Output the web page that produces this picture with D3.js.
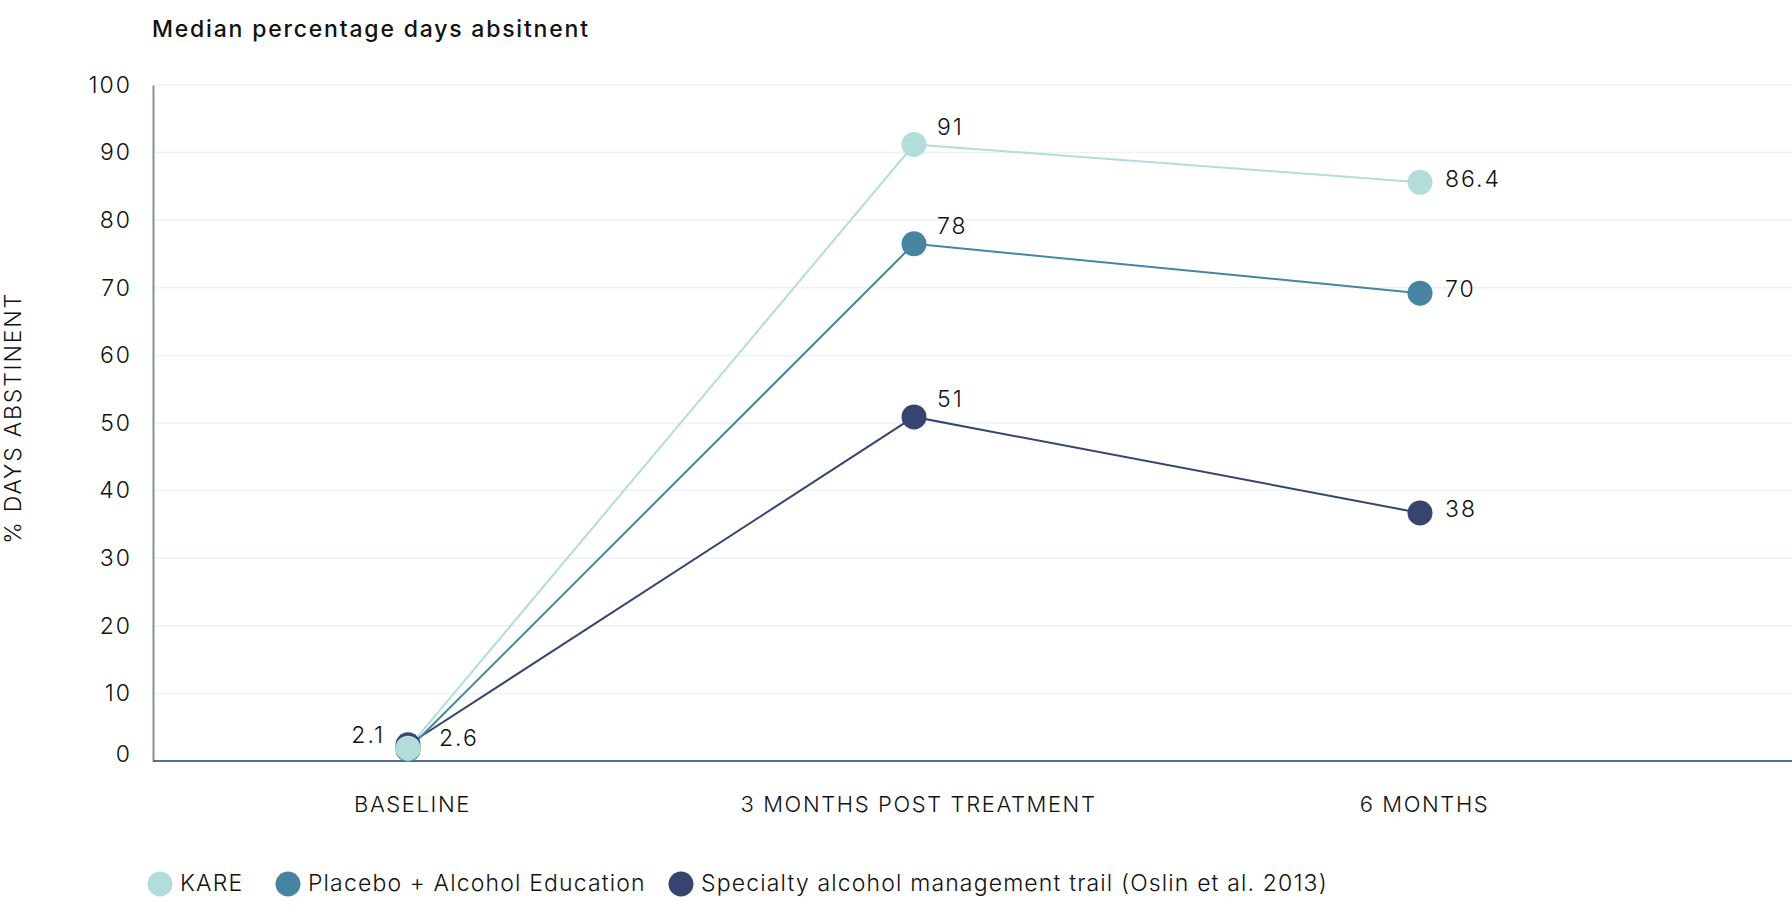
<!DOCTYPE html>
<html><head><meta charset="utf-8">
<script src="https://cdn.jsdelivr.net/npm/d3@7"></script>
<style>
html,body{margin:0;padding:0;background:#fff;}
svg{display:block;}
text{font-family:Inter,"Noto Sans",sans-serif;fill:#111;}
</style></head>
<body><svg id="chart" width="1792" height="917"></svg>
<script>
const categories = ["BASELINE", "3 MONTHS POST TREATMENT", "6 MONTHS"];
const seriesNames = ["KARE", "Placebo + Alcohol Education", "Specialty alcohol management trail (Oslin et al. 2013)"];
const kareValues = [1.9, 91.2, 85.6];
const placeboValues = [1.7, 76.5, 69.2];
const specialtyValues = [2.4, 50.9, 36.7];
const kareLabels = ["", "91", "86.4"];
const placeboLabels = ["", "78", "70"];
const specialtyLabels = ["2.1", "51", "38"];
const baselineExtraLabel = "2.6";
const yTicks = [0, 10, 20, 30, 40, 50, 60, 70, 80, 90, 100];
const colors = ["#b2ddda", "#4784a2", "#36456f"];
const titleText = "Median percentage days absitnent";
const yTitle = "% DAYS ABSTINENT";

const svg = d3.select("#chart");
const plotLeft = 153, plotRight = 1792, plotTop = 85, plotBottom = 761;
const x = d3.scalePoint().domain(categories).range([408, 1420]);
const y = d3.scaleLinear().domain([0, 100]).range([plotBottom, plotTop]);

const series = [
  {name: seriesNames[0], values: kareValues, labels: kareLabels, color: colors[0]},
  {name: seriesNames[1], values: placeboValues, labels: placeboLabels, color: colors[1]},
  {name: seriesNames[2], values: specialtyValues, labels: specialtyLabels, color: colors[2]}
];

// title
svg.append("text").attr("x", 152).attr("y", 31).attr("dominant-baseline", "middle")
  .attr("font-size", 23).attr("font-weight", 500).attr("letter-spacing", "1.8px").text(titleText);

// gridlines
svg.append("g").selectAll("line").data(yTicks.filter(d => d > 0)).join("line")
  .attr("x1", plotLeft).attr("x2", plotRight).attr("y1", d => y(d)).attr("y2", d => y(d))
  .attr("stroke", "#ecf2f8").attr("stroke-width", 1.5);

// y axis
const yAxis = svg.append("g").attr("transform", `translate(${plotLeft},0)`)
  .call(d3.axisLeft(y).tickValues(yTicks).tickSize(0).tickPadding(21).tickFormat(d3.format("d")));
yAxis.select(".domain").attr("stroke", "#848f9c").attr("stroke-width", 2);
yAxis.selectAll("text").attr("font-size", 23).attr("font-weight", 300).attr("fill", "#111")
  .attr("letter-spacing", "2px").style("font-family", "Inter, sans-serif")
  .attr("dy", d => d === 0 ? "0.0em" : "0.32em");

// x axis
const xAxis = svg.append("g").attr("transform", `translate(0,${plotBottom})`)
  .call(d3.axisBottom(x).tickSize(0).tickPadding(0));
xAxis.select(".domain").remove();
svg.append("line").attr("x1", plotLeft).attr("x2", plotRight).attr("y1", plotBottom).attr("y2", plotBottom)
  .attr("stroke", "#52708b").attr("stroke-width", 2);
xAxis.selectAll("text").attr("x", 4).attr("y", 45).attr("dy", null).attr("dominant-baseline", "middle")
  .attr("font-size", 22).attr("font-weight", 300).attr("fill", "#111").attr("letter-spacing", "1.6px")
  .style("font-family", "Inter, sans-serif");

// y title
svg.append("text").attr("transform", `translate(15,${418}) rotate(-90)`)
  .attr("text-anchor", "middle").attr("dominant-baseline", "middle")
  .attr("font-size", 23).attr("font-weight", 300).attr("letter-spacing", "1.8px").text(yTitle);

// lines & points (draw bottom series first so KARE is on top)
const line = d3.line().x((d, i) => x(categories[i])).y(d => y(d));
const drawOrder = [2, 1, 0];
drawOrder.forEach(si => {
  const s = series[si];
  svg.append("path").datum(s.values).attr("d", line).attr("fill", "none")
    .attr("stroke", s.color).attr("stroke-width", 2);
});
drawOrder.forEach(si => {
  const s = series[si];
  svg.append("g").selectAll("circle").data(s.values).join("circle")
    .attr("cx", (d, i) => x(categories[i])).attr("cy", d => y(d)).attr("r", 12.5)
    .attr("fill", s.color);
});

// value labels
const labelG = svg.append("g").attr("font-size", 23).attr("font-weight", 300).attr("letter-spacing", "2px");
series.forEach(s => {
  s.values.forEach((v, i) => {
    const lab = s.labels[i];
    if (!lab) return;
    const cx = x(categories[i]), cy = y(v);
    let tx, ty, anchor = "start";
    if (i === 0) { tx = cx - 23; ty = cy - 8; anchor = "end"; }
    else if (i === 1) { tx = cx + 23; ty = cy - 16; }
    else { tx = cx + 25; ty = cy - 2; }
    labelG.append("text").attr("x", tx).attr("y", ty).attr("text-anchor", anchor)
      .attr("dominant-baseline", "middle").text(lab);
  });
});
labelG.append("text").attr("x", x(categories[0]) + 31).attr("y", y(kareValues[0]) - 8)
  .attr("dominant-baseline", "middle").text(baselineExtraLabel);

// legend
const legendX = [160, 288, 681];
const legend = svg.append("g");
series.forEach((s, i) => {
  legend.append("circle").attr("cx", legendX[i]).attr("cy", 884).attr("r", 12.5).attr("fill", s.color);
  legend.append("text").attr("x", legendX[i] + 20).attr("y", 885).attr("dominant-baseline", "middle")
    .attr("font-size", 23).attr("font-weight", 300).attr("letter-spacing", "1.15px").text(s.name);
});
</script></body></html>
